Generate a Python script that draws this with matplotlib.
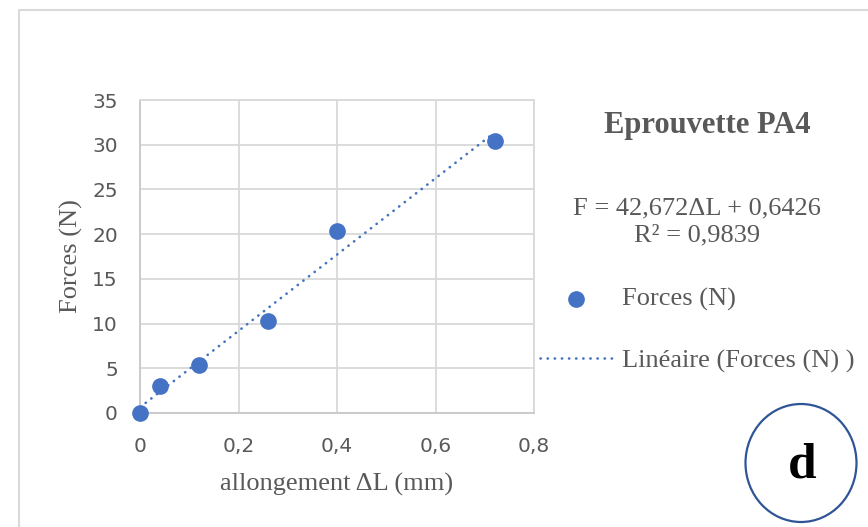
import numpy as np
import matplotlib
matplotlib.use("Agg")
import matplotlib.pyplot as plt
from matplotlib.patches import Ellipse
from matplotlib.lines import Line2D

# valeurs
allongement = [0, 0.04, 0.12, 0.26, 0.40, 0.72]
forces = [0, 3.05, 5.4, 10.3, 20.4, 30.4]
pente = 42.672
origine = 0.6426
r2 = 0.9839
x_ticks = [0, 0.2, 0.4, 0.6, 0.8]
x_labels = ["0", "0,2", "0,4", "0,6", "0,8"]
y_ticks = [0, 5, 10, 15, 20, 25, 30, 35]

BLEU = "#4472C4"
GRIS = "#595959"
GRILLE = "#d9d9d9"
SERIF = "Liberation Serif"

W, H = 868, 527
fig = plt.figure(figsize=(W / 100, H / 100), dpi=100)
ax = fig.add_axes([140 / W, 1 - 413 / H, 394 / W, 313 / H])

ax.scatter(allongement, forces, s=11 ** 2, color=BLEU, zorder=3, clip_on=False,
           label="Forces (N)")
xt = np.array([min(allongement), max(allongement)])
ax.plot(xt, pente * xt + origine, color=BLEU, lw=1.9, linestyle=(0, (0.1, 2.6)),
        dash_capstyle="round", zorder=2, label="Linéaire (Forces (N) )")

ax.set_xlim(0, 0.8)
ax.set_ylim(0, 35)
ax.set_xticks(x_ticks)
ax.set_xticklabels(x_labels)
ax.set_yticks(y_ticks)
ax.grid(True, color=GRILLE, lw=1.3)
ax.set_axisbelow(True)
for s in ax.spines.values():
    s.set_color(GRILLE)
    s.set_linewidth(1.3)
ax.spines["left"].set_color("#c8c8c8")
ax.spines["bottom"].set_color("#c8c8c8")
ax.tick_params(length=0, labelsize=14.5, labelcolor=GRIS)
ax.tick_params(axis="y", pad=16)
ax.tick_params(axis="x", pad=17)

ax.set_xlabel("allongement ΔL (mm)", fontsize=19, family=SERIF, color=GRIS)
ax.xaxis.label.set_verticalalignment("center")
ax.xaxis.set_label_coords(0.5, (413 - 484) / 313)
ax.set_ylabel("Forces (N)", fontsize=19, family=SERIF, color=GRIS)
ax.yaxis.label.set_verticalalignment("center")
ax.yaxis.set_label_coords((71 - 140) / 394, 0.5)

# titre et equation a droite
fig.text(707 / W, 1 - 125 / H, "Eprouvette PA4", fontsize=22, fontweight="bold",
         family=SERIF, color=GRIS, ha="center", va="center")
equation = f"F = {pente:.3f}ΔL + {origine:.4f}\nR² = {r2:.4f}".replace(".", ",")
fig.text(697 / W, 1 - 222 / H, equation, fontsize=19, family=SERIF, color=GRIS,
         ha="center", va="center", multialignment="center", linespacing=1.3)

leg = ax.legend(loc="center left", bbox_to_anchor=(540 / W, 1 - 330 / H),
                bbox_transform=fig.transFigure, frameon=False,
                prop={"family": SERIF, "size": 19}, handlelength=2.75,
                handletextpad=0.35, labelspacing=1.45, borderpad=0, borderaxespad=0)
for t in leg.get_texts():
    t.set_color(GRIS)

# cadre du graphique
fig.add_artist(Line2D([19 / W, 19 / W, 1.0], [0, 1 - 10 / H, 1 - 10 / H],
                      transform=fig.transFigure, color=GRILLE, lw=1.5))

# repere "d"
fig.add_artist(Ellipse((801 / W, 1 - 463 / H), 111 / W, 118 / H, transform=fig.transFigure,
                       fill=False, edgecolor="#2F5597", lw=1.6))
fig.text(802 / W, 1 - 466 / H, "d", fontsize=37, fontweight="bold", family=SERIF,
         color="black", ha="center", va="center")

fig.savefig("out.png", dpi=100)
